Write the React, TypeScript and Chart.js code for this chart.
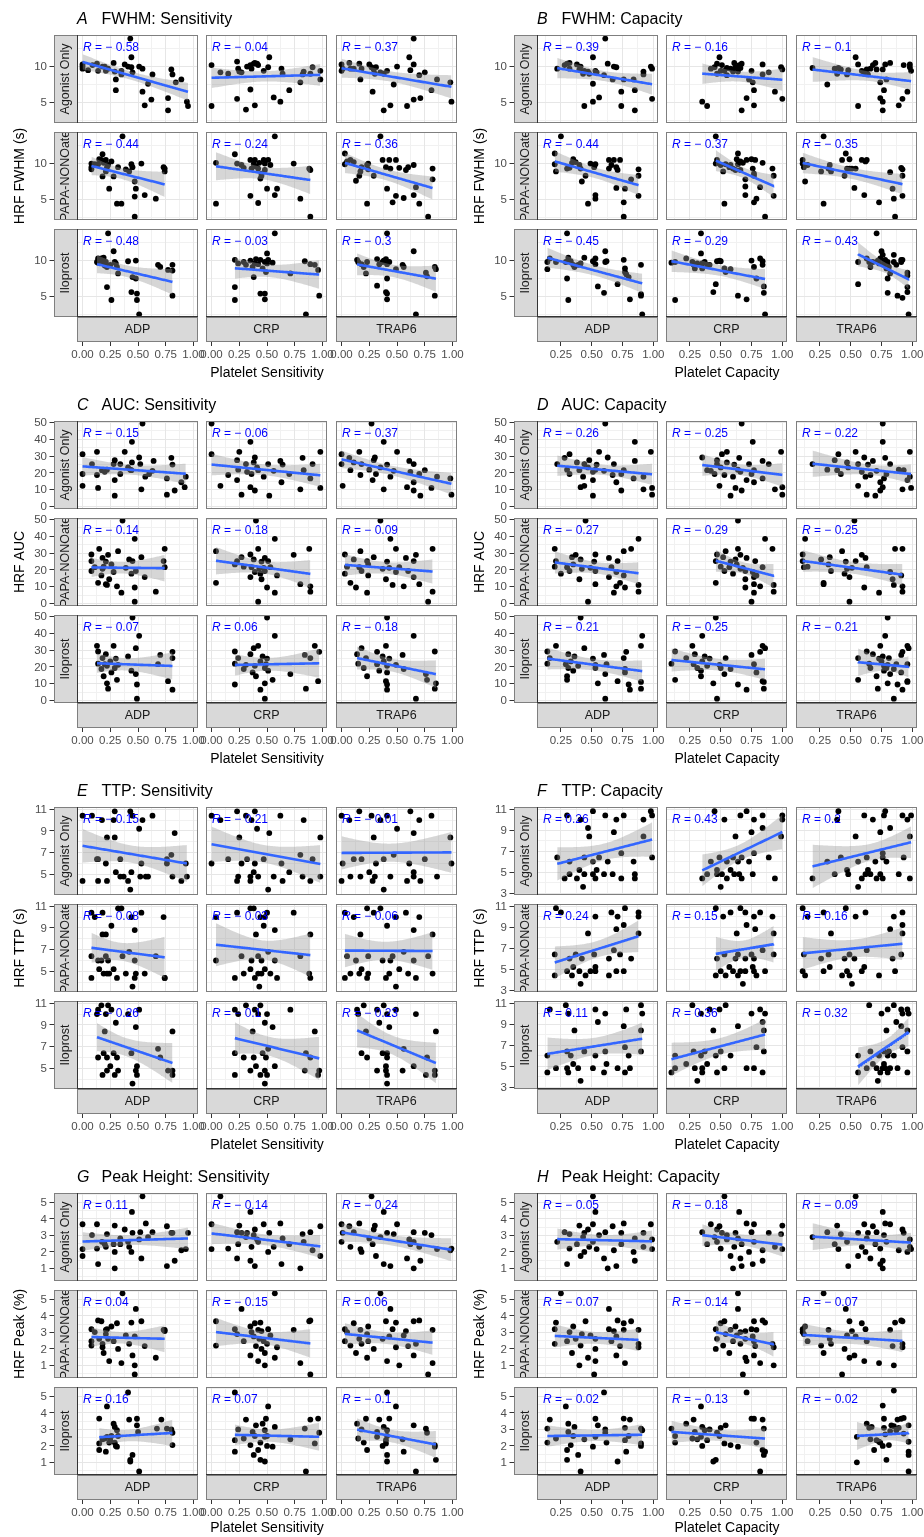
import React, { useEffect, useRef } from "react";
import { Chart, registerables } from "chart.js";

Chart.register(...registerables);

const FONT = '"Liberation Sans", Arial, Helvetica, sans-serif';

// ---------- facet labels ----------
const treatments = ["Agonist Only", "PAPA-NONOate", "Iloprost"];
const agonists = ["ADP", "CRP", "TRAP6"];

// ---------- axis scales ----------
const sensXRange = [-0.05, 1.04];
const sensXTicks = [0, 0.25, 0.5, 0.75, 1];
const capXRange = [0.056, 1.038];
const capXTicks = [0.25, 0.5, 0.75, 1];
const fwhmYRange = [2.13, 14.4];
const fwhmYTicks = [5, 10];
const aucYRange = [-1.4, 50.9];
const aucYTicks = [0, 10, 20, 30, 40, 50];
const ttpSensYRange = [3.1, 11.2];
const ttpCapYRange = [2.82, 11.2];
const ttpYTicks = [3, 5, 7, 9, 11];
const peakYRange = [0.23, 5.58];
const peakYTicks = [1, 2, 3, 4, 5];

// ---------- correlation coefficients (rows: treatment, cols: agonist) ----------
const rA = [-0.58, -0.04, -0.37, -0.44, -0.24, -0.36, -0.48, -0.03, -0.3];
const rB = [-0.39, -0.16, -0.1, -0.44, -0.37, -0.35, -0.45, -0.29, -0.43];
const rC = [-0.15, -0.06, -0.37, -0.14, -0.18, -0.09, -0.07, 0.06, -0.18];
const rD = [-0.26, -0.25, -0.22, -0.27, -0.29, -0.25, -0.21, -0.25, -0.21];
const rE = [-0.15, -0.21, -0.01, -0.08, -0.03, -0.06, -0.26, -0.1, -0.23];
const rF = [0.26, 0.43, 0.2, 0.24, 0.15, 0.16, 0.11, 0.36, 0.32];
const rG = [0.11, -0.14, -0.24, 0.04, -0.15, 0.06, 0.16, 0.07, -0.1];
const rH = [-0.05, -0.18, -0.09, -0.07, -0.14, -0.07, -0.02, -0.13, -0.02];

// ---------- platelet sensitivity per subject (x) ----------
const sens_ago_ADP_x = [0.0, 0.0, 0.0, 0.05, 0.09, 0.13, 0.14, 0.18, 0.2, 0.21, 0.23, 0.28, 0.29, 0.3, 0.3, 0.35, 0.35, 0.38, 0.41, 0.44, 0.43, 0.44, 0.45, 0.51, 0.54, 0.54, 0.59, 0.63, 0.62, 0.56, 0.77, 0.77, 0.8, 0.81, 0.84, 0.89, 0.94, 0.95];
const sens_ago_CRP_x = [0.0, 0.0, 0.08, 0.15, 0.23, 0.24, 0.25, 0.23, 0.31, 0.32, 0.35, 0.36, 0.38, 0.39, 0.41, 0.35, 0.39, 0.42, 0.47, 0.51, 0.52, 0.56, 0.62, 0.63, 0.64, 0.7, 0.8, 0.82, 0.83, 0.89, 0.91, 0.98, 0.98, 0.27];
const sens_ago_TRAP6_x = [0.0, 0.0, 0.01, 0.07, 0.08, 0.11, 0.16, 0.17, 0.18, 0.25, 0.27, 0.28, 0.29, 0.31, 0.3, 0.35, 0.38, 0.38, 0.41, 0.44, 0.47, 0.5, 0.59, 0.61, 0.62, 0.65, 0.65, 0.65, 0.7, 0.71, 0.75, 0.81, 0.86, 0.98, 0.99];
const sens_papa_ADP_x = [0.08, 0.08, 0.08, 0.11, 0.15, 0.17, 0.18, 0.19, 0.21, 0.21, 0.18, 0.23, 0.24, 0.26, 0.28, 0.32, 0.31, 0.35, 0.36, 0.39, 0.42, 0.44, 0.45, 0.47, 0.48, 0.47, 0.47, 0.53, 0.56, 0.66, 0.73, 0.74, 0.74, 0.14, 0.22];
const sens_papa_CRP_x = [0.04, 0.04, 0.21, 0.23, 0.27, 0.29, 0.35, 0.35, 0.36, 0.38, 0.39, 0.4, 0.42, 0.42, 0.43, 0.44, 0.45, 0.45, 0.47, 0.48, 0.48, 0.5, 0.51, 0.53, 0.57, 0.57, 0.59, 0.74, 0.8, 0.88, 0.89, 0.89];
const sens_papa_TRAP6_x = [0.03, 0.03, 0.05, 0.08, 0.11, 0.13, 0.16, 0.17, 0.18, 0.23, 0.23, 0.24, 0.24, 0.29, 0.35, 0.37, 0.4, 0.41, 0.43, 0.46, 0.49, 0.49, 0.52, 0.56, 0.58, 0.6, 0.65, 0.65, 0.67, 0.7, 0.78, 0.82, 0.82, 0.44];
const sens_ilo_ADP_x = [0.14, 0.14, 0.17, 0.18, 0.2, 0.19, 0.21, 0.22, 0.23, 0.22, 0.25, 0.26, 0.28, 0.29, 0.3, 0.31, 0.32, 0.41, 0.45, 0.44, 0.48, 0.48, 0.49, 0.49, 0.51, 0.68, 0.7, 0.77, 0.81, 0.81, 0.81, 0.13];
const sens_ilo_CRP_x = [0.21, 0.21, 0.21, 0.24, 0.29, 0.31, 0.35, 0.37, 0.38, 0.39, 0.4, 0.44, 0.44, 0.46, 0.48, 0.48, 0.48, 0.49, 0.5, 0.5, 0.51, 0.55, 0.57, 0.71, 0.84, 0.89, 0.93, 0.96, 0.97, 0.85, 0.42];
const sens_ilo_TRAP6_x = [0.14, 0.15, 0.18, 0.2, 0.22, 0.23, 0.32, 0.32, 0.34, 0.37, 0.38, 0.4, 0.41, 0.41, 0.41, 0.43, 0.4, 0.41, 0.41, 0.49, 0.55, 0.56, 0.65, 0.67, 0.76, 0.77, 0.84, 0.85, 0.84];

// ---------- platelet capacity per subject (x) ----------
const cap_ago_ADP_x = [0.22, 0.28, 0.3, 0.32, 0.32, 0.38, 0.4, 0.41, 0.43, 0.44, 0.44, 0.47, 0.48, 0.51, 0.51, 0.51, 0.53, 0.54, 0.56, 0.6, 0.61, 0.63, 0.67, 0.68, 0.7, 0.74, 0.74, 0.76, 0.84, 0.85, 0.85, 0.92, 0.92, 0.98, 0.99, 0.99];
const cap_ago_CRP_x = [0.35, 0.39, 0.42, 0.45, 0.47, 0.47, 0.49, 0.5, 0.51, 0.53, 0.55, 0.55, 0.58, 0.6, 0.61, 0.62, 0.64, 0.65, 0.66, 0.67, 0.67, 0.71, 0.73, 0.75, 0.76, 0.77, 0.77, 0.84, 0.84, 0.89, 0.94, 0.99, 1.0, 1.0];
const cap_ago_TRAP6_x = [0.19, 0.31, 0.37, 0.39, 0.4, 0.42, 0.47, 0.48, 0.54, 0.56, 0.56, 0.59, 0.61, 0.62, 0.63, 0.64, 0.66, 0.68, 0.7, 0.71, 0.74, 0.76, 0.74, 0.77, 0.76, 0.76, 0.78, 0.79, 0.82, 0.89, 0.92, 0.93, 0.96, 0.98, 0.98, 0.99];
const cap_papa_ADP_x = [0.2, 0.2, 0.21, 0.25, 0.3, 0.32, 0.34, 0.35, 0.37, 0.4, 0.41, 0.42, 0.45, 0.47, 0.49, 0.52, 0.53, 0.53, 0.53, 0.64, 0.64, 0.66, 0.68, 0.7, 0.7, 0.71, 0.73, 0.76, 0.76, 0.77, 0.82, 0.88, 0.88, 0.88];
const cap_papa_CRP_x = [0.46, 0.46, 0.47, 0.5, 0.52, 0.53, 0.54, 0.57, 0.58, 0.6, 0.62, 0.63, 0.64, 0.64, 0.66, 0.66, 0.68, 0.7, 0.7, 0.7, 0.71, 0.75, 0.76, 0.77, 0.77, 0.78, 0.77, 0.79, 0.82, 0.84, 0.86, 0.92, 0.93, 0.93];
const cap_papa_TRAP6_x = [0.11, 0.11, 0.12, 0.13, 0.15, 0.26, 0.28, 0.28, 0.32, 0.33, 0.34, 0.43, 0.45, 0.46, 0.47, 0.49, 0.49, 0.51, 0.53, 0.54, 0.59, 0.61, 0.62, 0.63, 0.73, 0.82, 0.84, 0.85, 0.86, 0.91, 0.92, 0.92, 0.92];
const cap_ilo_ADP_x = [0.14, 0.14, 0.16, 0.21, 0.29, 0.3, 0.3, 0.31, 0.31, 0.33, 0.35, 0.36, 0.39, 0.41, 0.44, 0.53, 0.51, 0.53, 0.55, 0.6, 0.61, 0.61, 0.62, 0.71, 0.76, 0.77, 0.77, 0.78, 0.8, 0.81, 0.9, 0.9, 0.9, 0.91];
const cap_ilo_CRP_x = [0.1, 0.13, 0.13, 0.22, 0.27, 0.28, 0.29, 0.31, 0.34, 0.34, 0.35, 0.35, 0.37, 0.39, 0.41, 0.46, 0.44, 0.47, 0.49, 0.5, 0.53, 0.54, 0.58, 0.64, 0.71, 0.75, 0.77, 0.79, 0.82, 0.84, 0.84, 0.85, 0.85, 0.86];
const cap_ilo_TRAP6_x = [0.56, 0.56, 0.63, 0.65, 0.66, 0.68, 0.71, 0.72, 0.73, 0.74, 0.75, 0.76, 0.77, 0.77, 0.78, 0.79, 0.8, 0.8, 0.8, 0.81, 0.82, 0.85, 0.85, 0.87, 0.88, 0.91, 0.91, 0.92, 0.92, 0.96, 0.96, 0.96, 0.96, 0.97];

// ---------- HRF FWHM (s) ----------
const A_ago_ADP_y = [10.3, 9.7, 10.0, 9.5, 10.2, 10.4, 9.4, 10.0, 10.0, 9.4, 9.7, 10.5, 9.3, 8.2, 6.7, 9.4, 8.9, 10.3, 10.0, 11.3, 13.9, 9.9, 9.2, 10.0, 9.7, 6.5, 7.6, 8.9, 5.4, 4.6, 5.6, 3.9, 9.6, 8.9, 7.8, 8.2, 5.1, 4.5];
const A_ago_CRP_y = [10.2, 4.5, 9.2, 9.0, 10.7, 9.7, 9.3, 5.5, 4.0, 10.0, 10.2, 9.7, 10.4, 10.5, 10.4, 6.8, 4.6, 10.2, 9.4, 9.9, 11.3, 5.7, 5.1, 9.7, 9.0, 6.7, 7.8, 8.9, 9.3, 9.0, 9.9, 9.4, 8.2, 9.2];
const A_ago_TRAP6_y = [10.3, 9.4, 9.7, 10.5, 9.7, 9.7, 10.4, 8.2, 9.7, 10.3, 9.9, 6.5, 9.6, 9.9, 9.0, 9.2, 9.0, 3.9, 9.4, 4.6, 7.5, 10.0, 4.5, 11.3, 9.5, 10.3, 13.9, 5.4, 8.8, 5.6, 9.2, 6.7, 8.2, 7.8, 5.1];
const A_papa_ADP_y = [10.0, 9.5, 9.2, 9.9, 10.6, 10.5, 11.3, 10.1, 10.5, 8.9, 8.2, 9.8, 6.5, 10.3, 8.2, 9.5, 4.4, 4.4, 13.8, 9.2, 8.9, 9.9, 9.5, 7.5, 6.5, 5.4, 2.6, 10.0, 5.6, 5.1, 9.5, 8.9, 9.3, 9.9, 9.5];
const A_papa_CRP_y = [10.1, 4.4, 11.3, 10.0, 9.8, 9.4, 10.5, 5.5, 9.3, 9.9, 10.5, 9.6, 9.3, 4.5, 10.1, 7.9, 8.3, 8.6, 10.5, 9.1, 10.0, 6.5, 10.5, 9.8, 13.8, 5.6, 6.5, 10.0, 5.1, 9.3, 2.6, 9.1];
const A_papa_TRAP6_y = [11.4, 9.9, 10.3, 10.5, 10.2, 7.6, 8.3, 8.9, 9.5, 9.8, 4.4, 9.2, 10.0, 8.3, 13.8, 10.5, 9.5, 6.5, 10.5, 4.6, 10.5, 5.5, 9.4, 5.2, 9.1, 9.5, 9.8, 5.6, 6.7, 4.4, 2.6, 9.3, 7.8, 9.3];
const A_ilo_ADP_y = [10.3, 9.7, 10.3, 9.9, 9.3, 10.4, 9.8, 9.1, 13.8, 6.3, 9.4, 4.5, 11.3, 9.8, 9.6, 9.1, 8.2, 9.9, 7.7, 5.6, 10.0, 7.5, 5.4, 4.5, 2.5, 9.4, 9.1, 8.7, 9.4, 5.1, 8.6, 9.8];
const A_ilo_CRP_y = [10.1, 6.3, 4.5, 9.6, 9.8, 9.4, 10.0, 9.1, 7.7, 9.6, 10.2, 10.1, 5.4, 8.9, 9.8, 5.4, 4.6, 8.4, 9.6, 11.0, 10.1, 9.7, 13.8, 8.2, 9.9, 9.5, 9.4, 8.7, 5.1, 2.5, 9.5];
const A_ilo_TRAP6_y = [10.1, 9.8, 9.5, 9.1, 8.2, 9.8, 6.5, 10.2, 9.5, 9.8, 10.0, 10.2, 13.8, 9.5, 7.5, 9.8, 5.6, 5.4, 4.6, 8.8, 9.4, 9.1, 11.3, 2.5, 8.3, 7.8, 9.1, 8.8, 5.1];

const B_ago_ADP_y = [9.7, 10.2, 10.4, 9.7, 10.5, 10.3, 9.6, 10.0, 9.0, 9.4, 4.5, 9.3, 9.0, 11.3, 7.6, 5.1, 9.4, 9.2, 5.7, 8.8, 13.9, 10.4, 8.2, 10.0, 9.9, 6.5, 4.5, 8.2, 8.2, 3.9, 6.7, 9.3, 8.9, 10.0, 9.7, 5.5];
const B_ago_CRP_y = [5.1, 4.5, 9.7, 9.9, 9.0, 10.4, 11.3, 9.4, 10.2, 9.4, 9.8, 8.8, 9.7, 9.3, 10.5, 9.9, 9.3, 10.2, 9.8, 10.4, 3.9, 5.6, 8.2, 9.4, 7.8, 6.7, 4.6, 10.3, 8.9, 9.2, 6.5, 9.9, 9.6, 5.5];
const B_ago_TRAP6_y = [9.8, 7.5, 9.7, 9.0, 9.8, 9.6, 8.9, 9.5, 11.3, 4.5, 10.3, 9.4, 9.0, 9.3, 9.6, 8.9, 9.7, 10.2, 10.5, 9.6, 7.8, 9.6, 5.6, 6.7, 5.1, 3.9, 10.3, 8.2, 10.5, 4.6, 5.5, 10.2, 6.5, 10.3, 9.9, 9.4];
const B_papa_ADP_y = [11.4, 9.9, 8.9, 13.8, 9.3, 9.4, 10.1, 10.6, 10.2, 9.8, 9.3, 7.5, 8.3, 4.4, 10.0, 9.5, 9.9, 5.6, 5.1, 9.3, 10.5, 9.8, 10.5, 6.6, 9.5, 9.1, 10.5, 4.6, 2.6, 6.5, 7.8, 9.2, 8.3, 5.5];
const B_papa_CRP_y = [13.8, 10.0, 10.5, 9.8, 8.9, 4.4, 9.9, 9.5, 9.8, 9.3, 9.1, 10.6, 11.4, 9.9, 10.3, 9.1, 10.1, 7.8, 6.8, 5.6, 10.5, 10.6, 9.3, 8.6, 4.6, 10.5, 8.3, 5.1, 6.7, 10.1, 2.6, 9.3, 8.3, 5.5];
const B_papa_TRAP6_y = [10.5, 10.0, 9.5, 7.5, 9.8, 8.9, 13.8, 4.4, 9.3, 9.8, 8.9, 10.5, 8.3, 11.4, 9.3, 10.6, 9.3, 9.3, 6.6, 9.3, 10.5, 5.6, 10.3, 10.5, 4.6, 8.8, 6.5, 5.1, 2.6, 9.4, 9.2, 8.3, 5.5];
const B_ilo_ADP_y = [9.8, 8.8, 10.3, 9.8, 9.8, 13.8, 7.5, 4.5, 10.4, 9.9, 9.4, 9.1, 9.4, 9.6, 10.4, 9.5, 9.9, 10.3, 6.4, 5.5, 11.3, 9.8, 9.9, 6.7, 10.1, 8.9, 8.4, 8.1, 7.7, 4.6, 9.4, 5.3, 5.1, 2.5];
const B_ilo_CRP_y = [9.7, 9.8, 4.5, 10.3, 9.8, 9.4, 8.9, 9.6, 13.8, 11.0, 9.6, 8.9, 9.8, 9.4, 9.4, 6.7, 5.6, 9.9, 10.0, 9.9, 8.9, 8.4, 8.8, 5.1, 4.6, 10.0, 9.1, 7.5, 10.3, 9.9, 9.4, 6.4, 5.5, 2.5];
const B_ilo_TRAP6_y = [9.8, 6.7, 10.3, 9.8, 9.1, 9.8, 13.8, 10.0, 9.6, 10.3, 11.3, 10.8, 9.8, 9.4, 10.1, 8.9, 9.8, 7.5, 5.5, 9.1, 8.2, 9.8, 10.8, 9.4, 5.1, 10.1, 9.8, 10.1, 4.8, 8.3, 7.9, 6.3, 5.6, 2.5];

// ---------- HRF AUC ----------
const C_ago_ADP_x = [0.0, 0.0, 0.0, 0.085, 0.13, 0.13, 0.14, 0.175, 0.2, 0.22, 0.28, 0.29, 0.29, 0.29, 0.34, 0.34, 0.38, 0.41, 0.43, 0.44, 0.445, 0.445, 0.54, 0.53, 0.51, 0.52, 0.565, 0.6, 0.63, 0.64, 0.76, 0.76, 0.8, 0.81, 0.83, 0.89, 0.92, 0.93];
const C_ago_ADP_y = [31.2, 19.4, 12.4, 25.3, 32.6, 18.8, 11.1, 21.7, 20.7, 22.0, 25.3, 27.6, 15.8, 6.5, 19.4, 25.3, 32.6, 23.3, 22.0, 21.7, 38.5, 26.3, 49.4, 10.3, 29.2, 25.3, 17.8, 19.4, 21.3, 27.2, 16.8, 7.1, 29.0, 25.0, 9.6, 14.5, 11.6, 17.8];
const C_ago_CRP_y = [49.4, 31.2, 12.4, 18.8, 27.6, 22.0, 32.6, 15.8, 25.3, 20.7, 38.5, 19.4, 26.3, 9.6, 23.3, 11.6, 29.2, 21.7, 17.8, 25.3, 6.5, 21.3, 27.2, 14.5, 25.0, 19.4, 10.3, 29.0, 21.7, 16.8, 25.3, 11.1, 32.6, 7.1];
const C_ago_TRAP6_y = [31.2, 25.3, 12.4, 29.0, 21.7, 26.3, 32.6, 18.8, 25.3, 22.0, 49.4, 15.8, 27.6, 19.4, 29.2, 23.3, 38.5, 10.3, 25.0, 17.8, 21.3, 32.6, 11.6, 27.2, 20.7, 14.5, 25.3, 9.6, 19.4, 6.5, 21.7, 11.1, 17.8, 16.8, 7.1];
const C_papa_ADP_y = [25.3, 19.4, 29.2, 21.7, 32.6, 16.8, 27.2, 22.0, 11.6, 25.0, 20.7, 29.0, 14.5, 23.3, 18.8, 31.2, 10.3, 6.5, 49.4, 21.3, 26.3, 17.8, 25.3, 38.5, 19.4, 9.6, 1.2, 27.6, 15.8, 7.1, 25.3, 21.7, 32.6, 12.4, 11.1];
const C_papa_CRP_y = [31.2, 12.4, 23.3, 25.3, 27.6, 22.0, 29.2, 15.8, 21.7, 26.3, 18.8, 49.4, 32.6, 1.2, 20.7, 17.8, 25.0, 14.5, 21.3, 19.4, 27.2, 9.6, 25.3, 21.7, 38.5, 6.5, 16.8, 29.0, 11.6, 32.6, 10.3, 7.1];
const C_papa_TRAP6_y = [29.2, 17.8, 22.0, 12.4, 26.3, 9.6, 21.7, 31.2, 19.4, 25.3, 6.5, 23.3, 16.8, 27.6, 49.4, 20.7, 14.5, 25.0, 21.3, 11.1, 32.6, 18.8, 21.7, 10.3, 27.2, 19.4, 25.3, 15.8, 29.0, 11.6, 1.2, 32.6, 7.1, 38.5];
const C_ilo_ADP_y = [22.0, 29.2, 18.8, 25.3, 21.7, 14.5, 27.6, 20.7, 7.1, 10.3, 23.3, 16.8, 32.6, 19.4, 25.0, 12.4, 21.3, 26.3, 49.4, 17.8, 31.2, 15.8, 9.6, 1.2, 38.5, 21.7, 27.2, 11.6, 25.3, 6.5, 29.0, 32.6];
const C_ilo_CRP_y = [22.0, 29.2, 9.6, 25.3, 18.8, 21.3, 27.6, 16.8, 31.2, 20.7, 14.5, 23.3, 6.5, 26.3, 19.4, 10.3, 1.2, 21.7, 25.0, 49.4, 17.8, 12.4, 38.5, 15.8, 27.2, 25.3, 32.6, 11.6, 29.0, 7.1, 32.6];
const C_ilo_TRAP6_y = [27.6, 22.0, 31.2, 19.4, 25.3, 14.5, 29.0, 21.7, 17.8, 26.3, 23.3, 11.6, 49.4, 20.7, 9.6, 25.0, 32.6, 6.5, 16.8, 21.3, 27.2, 18.8, 38.5, 1.2, 15.8, 12.4, 29.2, 10.3, 7.1];

const D_ago_ADP_y = [25.3, 29.0, 22.0, 31.2, 19.4, 26.3, 21.7, 11.6, 17.8, 25.3, 12.4, 23.3, 27.6, 20.7, 6.5, 15.8, 22.0, 25.0, 32.6, 21.3, 49.4, 29.2, 18.8, 25.3, 14.5, 9.6, 19.4, 21.7, 16.8, 38.5, 27.2, 17.8, 10.3, 32.6, 11.1, 7.1];
const D_ago_CRP_y = [29.2, 21.7, 21.3, 19.4, 25.3, 27.6, 12.4, 23.3, 31.2, 18.8, 26.3, 32.6, 6.5, 17.8, 25.0, 11.1, 22.0, 29.0, 20.7, 49.4, 9.6, 15.8, 25.3, 19.4, 38.5, 21.7, 14.5, 27.2, 16.8, 25.3, 10.3, 32.6, 11.6, 7.1];
const D_ago_TRAP6_y = [25.3, 22.0, 27.6, 21.7, 31.2, 19.4, 26.3, 23.3, 32.6, 12.4, 25.3, 20.7, 29.2, 17.8, 7.1, 25.0, 18.8, 27.2, 6.5, 21.3, 14.5, 49.4, 9.6, 16.8, 11.6, 38.5, 29.0, 19.4, 25.3, 22.0, 10.3, 21.7, 15.8, 32.6, 17.8, 11.1];
const D_papa_ADP_y = [32.6, 22.0, 25.3, 17.8, 21.7, 19.4, 27.6, 23.3, 29.0, 14.5, 26.3, 20.7, 49.4, 1.2, 21.3, 25.0, 11.6, 19.4, 29.2, 15.8, 27.2, 21.7, 6.5, 10.3, 18.8, 25.3, 12.4, 31.2, 16.8, 9.6, 32.6, 7.1, 11.1, 38.5];
const D_papa_CRP_y = [12.4, 25.3, 29.2, 22.0, 27.6, 19.4, 31.2, 21.7, 25.0, 17.8, 26.3, 23.3, 32.6, 49.4, 20.7, 29.0, 21.3, 14.5, 19.4, 9.6, 27.2, 1.2, 18.8, 15.8, 6.5, 25.3, 11.6, 16.8, 10.3, 21.7, 38.5, 32.6, 11.1, 7.1];
const D_papa_TRAP6_y = [25.3, 29.2, 21.7, 38.5, 22.0, 26.3, 11.6, 12.4, 23.3, 27.6, 19.4, 31.2, 17.8, 25.0, 20.7, 1.2, 15.8, 21.3, 49.4, 25.3, 29.0, 9.6, 27.2, 21.7, 6.5, 18.8, 14.5, 11.1, 32.6, 16.8, 32.6, 10.3, 7.1];
const D_ilo_ADP_y = [29.2, 22.0, 25.3, 32.6, 21.7, 12.4, 14.5, 19.4, 27.6, 23.3, 17.8, 26.3, 20.7, 49.4, 31.2, 21.3, 25.0, 19.4, 10.3, 27.2, 1.2, 15.8, 21.7, 11.6, 25.3, 18.8, 16.8, 29.0, 9.6, 6.5, 32.6, 11.1, 7.1, 38.5];
const D_ilo_CRP_y = [22.0, 29.2, 12.4, 25.3, 32.6, 21.7, 27.6, 19.4, 14.5, 17.8, 23.3, 38.5, 26.3, 20.7, 25.0, 49.4, 10.3, 1.2, 21.3, 19.4, 15.8, 25.3, 18.8, 9.6, 6.5, 27.2, 21.7, 16.8, 29.0, 11.6, 32.6, 11.1, 7.1, 31.2];
const D_ilo_TRAP6_y = [25.3, 12.4, 29.2, 22.0, 19.4, 27.6, 14.5, 7.1, 25.0, 32.6, 23.3, 26.3, 20.7, 17.8, 38.5, 19.4, 21.3, 49.4, 10.3, 25.3, 15.8, 18.8, 1.2, 21.7, 9.6, 27.2, 16.8, 29.0, 6.5, 11.6, 32.6, 11.1, 21.7, 31.2];

// ---------- HRF TTP (s) ----------
const E_ago_ADP_x = [0.0, 0.0, 0.085, 0.13, 0.14, 0.14, 0.175, 0.21, 0.22, 0.22, 0.28, 0.29, 0.29, 0.3, 0.34, 0.34, 0.37, 0.41, 0.43, 0.43, 0.44, 0.45, 0.51, 0.52, 0.53, 0.54, 0.57, 0.59, 0.63, 0.76, 0.76, 0.8, 0.81, 0.83, 0.89, 0.93, 0.94];
const E_ago_ADP_y = [10.4, 4.4, 10.4, 6.4, 6.4, 4.4, 10.0, 6.0, 8.4, 4.4, 10.0, 10.8, 8.4, 5.2, 6.4, 4.8, 4.8, 4.4, 10.8, 3.6, 5.2, 10.4, 9.2, 4.8, 6.0, 10.0, 4.8, 4.8, 10.4, 6.0, 6.4, 6.8, 4.8, 8.8, 4.4, 6.0, 4.8];
const E_ago_CRP_y = [10.4, 6.0, 10.0, 6.4, 10.8, 4.8, 8.4, 4.4, 10.4, 6.4, 4.8, 10.0, 5.2, 6.0, 9.2, 4.4, 10.8, 4.8, 6.4, 3.6, 8.8, 4.8, 10.4, 6.0, 4.4, 5.2, 6.8, 4.8, 10.0, 4.4, 6.4, 8.4, 4.8, 6.0];
const E_ago_TRAP6_y = [10.4, 4.4, 6.0, 10.0, 4.8, 6.4, 10.8, 4.8, 6.4, 5.2, 10.4, 4.4, 8.4, 6.0, 4.8, 10.0, 3.6, 6.4, 10.4, 4.8, 6.8, 9.2, 4.4, 6.0, 10.8, 5.2, 4.8, 8.8, 10.0, 4.4, 6.4, 10.4, 4.8, 8.4, 6.0];
const E_papa_ADP_y = [10.4, 6.4, 4.4, 10.0, 5.2, 6.0, 8.4, 4.8, 6.4, 8.4, 10.4, 6.0, 4.8, 9.2, 5.2, 10.8, 4.4, 10.8, 6.4, 4.8, 6.8, 10.0, 3.6, 6.0, 4.8, 8.8, 4.4, 10.4, 4.8, 6.4, 10.0, 4.4, 4.4, 6.0, 4.8];
const E_papa_CRP_y = [10.0, 6.0, 4.4, 10.4, 6.4, 4.8, 10.8, 5.2, 6.0, 10.8, 4.4, 8.4, 4.8, 6.4, 3.6, 10.0, 4.8, 6.0, 9.2, 10.0, 5.2, 10.4, 6.8, 4.8, 8.8, 6.0, 4.4, 10.4, 6.4, 4.8, 4.4, 8.4];
const E_papa_TRAP6_y = [4.4, 10.4, 6.4, 4.8, 10.0, 6.0, 4.8, 8.4, 5.2, 10.8, 4.4, 6.4, 4.8, 10.4, 10.8, 6.0, 4.4, 9.2, 4.8, 6.4, 10.0, 3.6, 5.2, 6.8, 10.4, 4.8, 6.0, 8.8, 4.4, 10.0, 6.4, 4.8, 8.4, 6.0];
const E_ilo_ADP_y = [10.4, 6.0, 10.8, 4.4, 8.4, 6.4, 10.0, 4.8, 10.8, 6.0, 5.2, 10.4, 6.4, 4.4, 9.2, 6.0, 4.8, 10.0, 3.6, 6.4, 4.8, 8.8, 4.4, 5.2, 10.4, 6.8, 6.0, 4.8, 4.4, 8.4, 4.8, 10.0];
const E_ilo_CRP_y = [10.4, 6.4, 4.4, 10.0, 6.0, 10.8, 4.8, 8.4, 6.0, 10.4, 5.2, 4.4, 10.8, 6.4, 3.6, 9.2, 4.8, 6.0, 10.0, 4.4, 6.8, 8.8, 5.2, 10.4, 4.8, 6.0, 8.4, 4.4, 4.8, 6.4, 10.0];
const E_ilo_TRAP6_y = [10.4, 10.0, 6.4, 10.8, 8.4, 6.0, 10.4, 4.8, 9.2, 6.4, 10.8, 5.2, 10.0, 4.4, 6.0, 8.8, 4.8, 3.6, 6.4, 10.4, 4.8, 6.8, 5.2, 10.0, 4.4, 6.0, 4.8, 8.4, 4.4];

const F_ago_ADP_y = [6.4, 4.4, 10.4, 4.8, 6.0, 4.4, 5.2, 10.0, 3.6, 6.4, 4.8, 9.2, 8.4, 4.8, 6.0, 10.8, 4.4, 5.2, 6.4, 4.8, 10.4, 6.0, 4.8, 8.8, 10.0, 4.4, 6.8, 10.4, 6.0, 4.4, 4.8, 10.0, 8.4, 10.8, 6.4, 10.4];
const F_ago_CRP_y = [4.4, 4.8, 6.0, 10.8, 5.2, 4.8, 6.4, 3.6, 4.8, 10.0, 6.0, 4.4, 5.2, 6.4, 4.8, 8.4, 6.0, 4.8, 10.4, 6.4, 4.4, 10.8, 6.0, 8.8, 4.8, 10.0, 6.8, 10.4, 9.2, 6.4, 4.4, 8.4, 10.4, 10.0];
const F_ago_TRAP6_y = [4.4, 6.0, 4.8, 10.0, 10.8, 6.4, 5.2, 4.8, 8.4, 3.6, 6.0, 4.4, 10.4, 4.8, 6.4, 5.2, 4.8, 10.0, 6.0, 4.4, 8.8, 6.4, 4.8, 10.4, 4.4, 6.8, 10.8, 6.0, 9.2, 4.8, 10.4, 6.4, 10.0, 8.4, 4.4, 10.4];
const F_papa_ADP_y = [6.4, 4.4, 10.8, 10.4, 4.8, 6.0, 4.4, 5.2, 6.4, 4.8, 3.6, 6.0, 4.4, 8.4, 4.8, 6.4, 5.2, 10.0, 4.8, 6.0, 4.4, 10.4, 6.8, 4.8, 8.8, 10.0, 6.4, 9.2, 4.8, 10.8, 6.0, 8.4, 10.4, 10.0];
const F_papa_CRP_y = [4.4, 10.8, 6.0, 4.8, 10.0, 6.4, 4.4, 5.2, 10.4, 4.8, 6.0, 8.4, 4.4, 6.4, 4.8, 10.8, 3.6, 6.0, 10.4, 4.8, 9.2, 6.4, 5.2, 10.0, 4.8, 8.8, 6.0, 4.4, 10.4, 6.8, 4.8, 10.0, 6.4, 8.4];
const F_papa_TRAP6_y = [10.8, 4.8, 6.4, 4.4, 10.0, 6.0, 10.4, 4.8, 6.4, 5.2, 8.4, 4.4, 6.0, 10.8, 4.8, 6.4, 4.4, 3.6, 6.0, 10.0, 4.8, 5.2, 10.4, 6.8, 4.4, 8.8, 6.0, 10.0, 4.8, 6.4, 9.2, 8.4, 10.4];
const F_ilo_ADP_y = [6.0, 4.4, 10.4, 4.8, 10.8, 6.4, 4.8, 10.0, 4.4, 6.0, 5.2, 8.4, 4.8, 3.6, 6.4, 10.4, 4.8, 6.0, 9.2, 4.4, 6.4, 10.0, 5.2, 4.8, 8.8, 6.8, 4.4, 10.4, 6.0, 4.8, 10.8, 8.4, 6.4, 10.0];
const F_ilo_CRP_y = [4.4, 6.0, 4.8, 5.2, 10.8, 6.4, 4.8, 3.6, 6.0, 10.0, 4.4, 4.8, 6.4, 5.2, 10.4, 6.0, 8.4, 4.4, 10.4, 6.4, 4.8, 10.8, 6.0, 8.8, 4.8, 10.0, 4.8, 6.8, 10.4, 9.2, 4.4, 6.4, 8.4, 10.0];
const F_ilo_TRAP6_y = [4.4, 6.0, 4.8, 10.8, 6.4, 5.2, 4.8, 3.6, 6.0, 4.4, 10.0, 4.8, 6.4, 5.2, 4.8, 8.4, 6.0, 4.4, 10.4, 6.4, 4.8, 10.8, 6.0, 9.2, 4.8, 10.4, 8.8, 6.8, 10.0, 4.4, 6.4, 10.4, 8.4, 10.0];

// ---------- HRF peak (%) ----------
const G_ago_ADP_x = [0.0, 0.0, 0.0, 0.085, 0.13, 0.13, 0.14, 0.175, 0.2, 0.21, 0.22, 0.28, 0.29, 0.29, 0.29, 0.34, 0.34, 0.38, 0.41, 0.42, 0.44, 0.445, 0.45, 0.54, 0.53, 0.51, 0.52, 0.57, 0.59, 0.63, 0.76, 0.76, 0.8, 0.81, 0.83, 0.89, 0.93, 0.95];
const G_ago_ADP_y = [3.68, 2.17, 1.75, 3.02, 3.68, 2.2, 1.26, 2.61, 2.47, 2.31, 3.08, 2.47, 3.6, 2.0, 1.0, 2.82, 2.47, 3.36, 2.61, 2.31, 2.0, 4.43, 3.16, 5.38, 1.6, 2.76, 3.2, 3.73, 2.9, 3.2, 3.56, 1.14, 3.16, 3.16, 1.46, 2.1, 2.17, 3.16];
const G_ago_CRP_y = [3.68, 2.17, 5.38, 2.2, 3.2, 2.47, 3.6, 1.6, 2.9, 3.16, 4.43, 2.31, 3.02, 1.14, 2.76, 1.46, 3.36, 2.61, 3.68, 2.0, 3.16, 2.31, 3.73, 1.26, 2.82, 2.47, 1.0, 3.08, 2.61, 3.2, 2.1, 3.56, 1.75, 3.16];
const G_ago_TRAP6_y = [3.68, 2.61, 3.16, 3.56, 2.31, 3.2, 3.73, 2.17, 2.0, 2.82, 5.38, 2.47, 3.36, 1.75, 3.6, 2.9, 4.43, 1.26, 3.16, 1.14, 3.08, 3.68, 1.6, 2.76, 2.47, 3.2, 1.0, 2.61, 2.31, 1.46, 3.16, 3.02, 2.17, 2.1, 2.2];
const G_papa_ADP_y = [3.2, 2.47, 2.2, 3.02, 2.61, 3.68, 2.31, 1.75, 2.9, 3.16, 2.1, 2.61, 1.26, 3.36, 2.47, 2.0, 3.56, 1.14, 5.38, 2.82, 2.31, 3.6, 1.6, 2.76, 4.43, 1.0, 0.45, 3.68, 2.17, 1.46, 3.16, 3.08, 3.16, 3.73, 3.2];
const G_papa_CRP_y = [3.68, 2.2, 3.2, 2.9, 4.43, 2.47, 3.36, 1.6, 3.02, 2.76, 3.56, 2.17, 3.16, 1.26, 2.61, 3.6, 2.0, 3.08, 2.47, 1.75, 1.0, 2.31, 3.2, 2.82, 5.38, 1.46, 2.1, 3.16, 1.14, 3.68, 0.45, 3.73];
const G_papa_TRAP6_y = [3.2, 2.47, 3.02, 2.2, 3.56, 1.75, 2.61, 3.16, 2.31, 2.9, 1.46, 3.36, 2.47, 2.0, 5.38, 2.61, 3.68, 1.26, 2.76, 3.2, 2.1, 3.6, 1.0, 2.82, 3.08, 2.17, 3.68, 1.6, 2.31, 3.73, 0.45, 3.16, 1.14, 4.43];
const G_ilo_ADP_x = [0.15, 0.15, 0.15, 0.22, 0.21, 0.2, 0.18, 0.22, 0.24, 0.25, 0.26, 0.28, 0.29, 0.29, 0.3, 0.31, 0.31, 0.32, 0.41, 0.42, 0.43, 0.43, 0.45, 0.49, 0.49, 0.5, 0.51, 0.67, 0.71, 0.76, 0.8, 0.81, 0.81];
const G_ilo_ADP_y = [3.66, 2.15, 1.75, 4.4, 1.65, 2.45, 2.4, 2.55, 2.2, 2.35, 2.6, 3.35, 2.2, 3.15, 2.0, 2.95, 1.95, 2.6, 5.25, 3.6, 1.15, 1.05, 1.45, 3.65, 3.25, 2.85, 0.45, 3.05, 3.6, 3.05, 3.0, 2.8, 2.05];
const G_ilo_CRP_y = [5.25, 2.35, 1.65, 3.0, 2.45, 3.6, 2.05, 2.85, 1.45, 2.6, 3.25, 1.15, 2.2, 3.35, 2.55, 1.05, 2.95, 3.65, 2.0, 2.6, 4.4, 1.95, 3.15, 2.4, 3.05, 3.6, 2.15, 3.66, 2.8, 0.45, 1.75];
const G_ilo_TRAP6_y = [3.35, 2.45, 3.0, 2.2, 3.65, 1.75, 2.85, 2.55, 3.6, 2.0, 3.15, 2.35, 5.25, 2.6, 1.45, 3.66, 2.15, 1.05, 2.95, 4.4, 2.4, 1.65, 3.25, 0.45, 3.05, 2.8, 1.95, 1.15, 2.05];

const H_ago_ADP_y = [2.61, 3.2, 1.26, 2.2, 3.08, 2.47, 3.6, 1.75, 2.9, 3.16, 2.0, 3.36, 2.31, 5.38, 3.68, 2.61, 4.43, 2.17, 3.02, 1.6, 3.2, 1.0, 3.56, 2.1, 1.14, 3.16, 2.47, 3.73, 2.0, 2.82, 1.46, 3.16, 2.31, 3.68, 2.76, 2.17];
const H_ago_CRP_y = [3.2, 2.47, 3.68, 2.9, 3.36, 2.61, 3.56, 2.2, 3.16, 5.38, 2.76, 3.02, 1.75, 1.0, 2.31, 3.16, 2.82, 4.43, 1.6, 1.14, 2.47, 3.73, 2.0, 3.2, 1.26, 2.61, 3.68, 2.1, 1.46, 3.16, 2.31, 3.08, 2.17, 3.6];
const H_ago_TRAP6_y = [2.9, 3.2, 2.47, 3.6, 2.17, 3.08, 2.61, 1.14, 5.38, 1.75, 3.16, 2.31, 3.68, 2.0, 2.82, 3.16, 1.6, 3.56, 2.47, 3.2, 1.26, 4.43, 2.2, 3.02, 1.46, 1.0, 3.73, 2.61, 3.68, 2.1, 3.36, 3.16, 2.0, 2.76, 2.31, 2.17];
const H_papa_ADP_y = [3.2, 2.31, 3.6, 5.38, 2.47, 3.02, 1.75, 3.36, 2.61, 1.0, 2.2, 2.9, 3.68, 1.46, 2.82, 0.45, 2.0, 2.61, 1.26, 3.2, 4.43, 2.47, 3.08, 1.6, 2.76, 3.73, 2.17, 3.56, 3.16, 1.14, 3.68, 2.31, 2.1, 3.16];
const H_papa_CRP_y = [2.0, 3.2, 2.61, 3.56, 2.2, 3.68, 2.9, 1.75, 3.16, 2.47, 3.36, 2.82, 4.43, 5.38, 3.02, 2.31, 0.45, 1.46, 2.61, 3.08, 1.26, 3.2, 2.76, 1.6, 3.68, 2.17, 2.47, 3.16, 1.14, 3.73, 3.6, 2.31, 1.0, 2.1];
const H_papa_TRAP6_y = [3.2, 3.02, 2.9, 3.36, 2.47, 2.2, 5.38, 1.75, 3.16, 2.61, 2.31, 0.45, 2.0, 4.43, 2.82, 3.68, 1.46, 3.08, 1.6, 2.76, 3.56, 1.26, 3.2, 2.47, 1.14, 3.16, 2.17, 1.0, 3.6, 3.73, 2.31, 3.68, 2.1];
const H_ilo_ADP_y = [3.05, 2.2, 3.6, 2.45, 4.4, 1.15, 1.75, 2.85, 3.35, 2.05, 2.6, 3.15, 1.45, 0.45, 2.4, 3.65, 1.95, 2.55, 3.25, 5.25, 2.8, 3.0, 2.2, 1.05, 3.66, 2.35, 3.1, 1.65, 2.6, 3.6, 2.0, 3.05, 2.15, 2.95];
const H_ilo_CRP_y = [3.05, 2.6, 2.2, 3.35, 2.45, 3.6, 2.85, 2.4, 4.4, 2.55, 3.15, 2.0, 2.95, 2.35, 3.0, 1.15, 1.05, 2.8, 2.6, 3.1, 2.15, 3.25, 2.05, 1.95, 5.25, 3.66, 3.65, 2.2, 0.45, 3.6, 1.75, 3.05, 1.45, 1.65];
const H_ilo_TRAP6_x = [0.55, 0.55, 0.63, 0.65, 0.66, 0.67, 0.69, 0.71, 0.73, 0.74, 0.76, 0.76, 0.77, 0.77, 0.78, 0.79, 0.81, 0.82, 0.83, 0.85, 0.85, 0.87, 0.88, 0.89, 0.91, 0.93, 0.93, 0.97, 0.97, 0.97, 0.97, 0.97];
const H_ilo_TRAP6_y = [2.55, 1.0, 3.35, 3.1, 2.4, 3.15, 1.75, 2.35, 2.25, 2.2, 2.0, 4.45, 3.65, 3.1, 2.7, 1.15, 2.05, 2.9, 3.25, 5.36, 3.2, 2.95, 3.6, 3.1, 3.65, 3.7, 2.75, 3.25, 2.25, 1.65, 1.45, 0.45];

type Facet = { x: number[]; y: number[] };
type Panel = {
  tag: string;
  title: string;
  yTitle: string;
  xTitle: string;
  gx: number;
  gy: number;
  xRange: number[];
  xTicks: number[];
  yRange: number[];
  yTicks: number[];
  r: number[];
  facets: Facet[][];
};

const f = (x: number[], y: number[]): Facet => ({ x, y });

const panels: Panel[] = [
  {
    tag: "A", title: "FWHM: Sensitivity", yTitle: "HRF FWHM (s)", xTitle: "Platelet Sensitivity", gx: 0, gy: 0,
    xRange: sensXRange, xTicks: sensXTicks, yRange: fwhmYRange, yTicks: fwhmYTicks, r: rA,
    facets: [
      [f(sens_ago_ADP_x, A_ago_ADP_y), f(sens_ago_CRP_x, A_ago_CRP_y), f(sens_ago_TRAP6_x, A_ago_TRAP6_y)],
      [f(sens_papa_ADP_x, A_papa_ADP_y), f(sens_papa_CRP_x, A_papa_CRP_y), f(sens_papa_TRAP6_x, A_papa_TRAP6_y)],
      [f(sens_ilo_ADP_x, A_ilo_ADP_y), f(sens_ilo_CRP_x, A_ilo_CRP_y), f(sens_ilo_TRAP6_x, A_ilo_TRAP6_y)],
    ],
  },
  {
    tag: "B", title: "FWHM: Capacity", yTitle: "HRF FWHM (s)", xTitle: "Platelet Capacity", gx: 1, gy: 0,
    xRange: capXRange, xTicks: capXTicks, yRange: fwhmYRange, yTicks: fwhmYTicks, r: rB,
    facets: [
      [f(cap_ago_ADP_x, B_ago_ADP_y), f(cap_ago_CRP_x, B_ago_CRP_y), f(cap_ago_TRAP6_x, B_ago_TRAP6_y)],
      [f(cap_papa_ADP_x, B_papa_ADP_y), f(cap_papa_CRP_x, B_papa_CRP_y), f(cap_papa_TRAP6_x, B_papa_TRAP6_y)],
      [f(cap_ilo_ADP_x, B_ilo_ADP_y), f(cap_ilo_CRP_x, B_ilo_CRP_y), f(cap_ilo_TRAP6_x, B_ilo_TRAP6_y)],
    ],
  },
  {
    tag: "C", title: "AUC: Sensitivity", yTitle: "HRF AUC", xTitle: "Platelet Sensitivity", gx: 0, gy: 1,
    xRange: sensXRange, xTicks: sensXTicks, yRange: aucYRange, yTicks: aucYTicks, r: rC,
    facets: [
      [f(C_ago_ADP_x, C_ago_ADP_y), f(sens_ago_CRP_x, C_ago_CRP_y), f(sens_ago_TRAP6_x, C_ago_TRAP6_y)],
      [f(sens_papa_ADP_x, C_papa_ADP_y), f(sens_papa_CRP_x, C_papa_CRP_y), f(sens_papa_TRAP6_x, C_papa_TRAP6_y)],
      [f(sens_ilo_ADP_x, C_ilo_ADP_y), f(sens_ilo_CRP_x, C_ilo_CRP_y), f(sens_ilo_TRAP6_x, C_ilo_TRAP6_y)],
    ],
  },
  {
    tag: "D", title: "AUC: Capacity", yTitle: "HRF AUC", xTitle: "Platelet Capacity", gx: 1, gy: 1,
    xRange: capXRange, xTicks: capXTicks, yRange: aucYRange, yTicks: aucYTicks, r: rD,
    facets: [
      [f(cap_ago_ADP_x, D_ago_ADP_y), f(cap_ago_CRP_x, D_ago_CRP_y), f(cap_ago_TRAP6_x, D_ago_TRAP6_y)],
      [f(cap_papa_ADP_x, D_papa_ADP_y), f(cap_papa_CRP_x, D_papa_CRP_y), f(cap_papa_TRAP6_x, D_papa_TRAP6_y)],
      [f(cap_ilo_ADP_x, D_ilo_ADP_y), f(cap_ilo_CRP_x, D_ilo_CRP_y), f(cap_ilo_TRAP6_x, D_ilo_TRAP6_y)],
    ],
  },
  {
    tag: "E", title: "TTP: Sensitivity", yTitle: "HRF TTP (s)", xTitle: "Platelet Sensitivity", gx: 0, gy: 2,
    xRange: sensXRange, xTicks: sensXTicks, yRange: ttpSensYRange, yTicks: ttpYTicks, r: rE,
    facets: [
      [f(E_ago_ADP_x, E_ago_ADP_y), f(sens_ago_CRP_x, E_ago_CRP_y), f(sens_ago_TRAP6_x, E_ago_TRAP6_y)],
      [f(sens_papa_ADP_x, E_papa_ADP_y), f(sens_papa_CRP_x, E_papa_CRP_y), f(sens_papa_TRAP6_x, E_papa_TRAP6_y)],
      [f(sens_ilo_ADP_x, E_ilo_ADP_y), f(sens_ilo_CRP_x, E_ilo_CRP_y), f(sens_ilo_TRAP6_x, E_ilo_TRAP6_y)],
    ],
  },
  {
    tag: "F", title: "TTP: Capacity", yTitle: "HRF TTP (s)", xTitle: "Platelet Capacity", gx: 1, gy: 2,
    xRange: capXRange, xTicks: capXTicks, yRange: ttpCapYRange, yTicks: ttpYTicks, r: rF,
    facets: [
      [f(cap_ago_ADP_x, F_ago_ADP_y), f(cap_ago_CRP_x, F_ago_CRP_y), f(cap_ago_TRAP6_x, F_ago_TRAP6_y)],
      [f(cap_papa_ADP_x, F_papa_ADP_y), f(cap_papa_CRP_x, F_papa_CRP_y), f(cap_papa_TRAP6_x, F_papa_TRAP6_y)],
      [f(cap_ilo_ADP_x, F_ilo_ADP_y), f(cap_ilo_CRP_x, F_ilo_CRP_y), f(cap_ilo_TRAP6_x, F_ilo_TRAP6_y)],
    ],
  },
  {
    tag: "G", title: "Peak Height: Sensitivity", yTitle: "HRF Peak (%)", xTitle: "Platelet Sensitivity", gx: 0, gy: 3,
    xRange: sensXRange, xTicks: sensXTicks, yRange: peakYRange, yTicks: peakYTicks, r: rG,
    facets: [
      [f(G_ago_ADP_x, G_ago_ADP_y), f(sens_ago_CRP_x, G_ago_CRP_y), f(sens_ago_TRAP6_x, G_ago_TRAP6_y)],
      [f(sens_papa_ADP_x, G_papa_ADP_y), f(sens_papa_CRP_x, G_papa_CRP_y), f(sens_papa_TRAP6_x, G_papa_TRAP6_y)],
      [f(G_ilo_ADP_x, G_ilo_ADP_y), f(sens_ilo_CRP_x, G_ilo_CRP_y), f(sens_ilo_TRAP6_x, G_ilo_TRAP6_y)],
    ],
  },
  {
    tag: "H", title: "Peak Height: Capacity", yTitle: "HRF Peak (%)", xTitle: "Platelet Capacity", gx: 1, gy: 3,
    xRange: capXRange, xTicks: capXTicks, yRange: peakYRange, yTicks: peakYTicks, r: rH,
    facets: [
      [f(cap_ago_ADP_x, H_ago_ADP_y), f(cap_ago_CRP_x, H_ago_CRP_y), f(cap_ago_TRAP6_x, H_ago_TRAP6_y)],
      [f(cap_papa_ADP_x, H_papa_ADP_y), f(cap_papa_CRP_x, H_papa_CRP_y), f(cap_papa_TRAP6_x, H_papa_TRAP6_y)],
      [f(cap_ilo_ADP_x, H_ilo_ADP_y), f(cap_ilo_CRP_x, H_ilo_CRP_y), f(H_ilo_TRAP6_x, H_ilo_TRAP6_y)],
    ],
  },
];

// ---------- layout ----------
const PANEL_DX = 460;
const PANEL_DY = 386;
const FACET_LEFT = [77, 206, 336];
const FACET_TOP = [35, 132, 229];
const FACET_W = 121;
const FACET_H = 88;
const PAD_L = 80;
const PAD_T = 26;
const PAD_B = 68;
const STRIP = 23;
const STRIP_B = 25;

const GRID_MAJOR = "#E6E6E6";
const GRID_MINOR = "#F1F1F1";
const EDGE = "#7F7F7F";
const STRIP_FILL = "#D9D9D9";
const TICK_TEXT = "#4D4D4D";
const TICK_FS = 11.5;
const STRIP_FS = 12.5;

const snap = (v: number) => Math.round(v - 0.5) + 0.5;

function minorBreaks(ticks: number[]) {
  const step = ticks[1] - ticks[0];
  const out: number[] = [];
  for (let v = ticks[0] - step / 2; v <= ticks[ticks.length - 1] + step; v += step) out.push(v);
  return out;
}

function formatR(v: number) {
  return v < 0 ? `\u2212 ${Math.abs(v)}` : `${v}`;
}

// two-sided 95% t quantile (Cornish-Fisher expansion)
function t975(df: number) {
  const z = 1.959964;
  const z3 = z ** 3, z5 = z ** 5, z7 = z ** 7;
  return z + (z3 + z) / (4 * df) + (5 * z5 + 16 * z3 + 3 * z) / (96 * df * df) +
    (3 * z7 + 19 * z5 + 17 * z3 - 15 * z) / (384 * df ** 3);
}

// ordinary least squares fit with 95% confidence band over the data range
function lmFit(xs: number[], ys: number[]) {
  const n = xs.length;
  if (n < 3) return null;
  let mx = 0, my = 0;
  for (let i = 0; i < n; i++) { mx += xs[i]; my += ys[i]; }
  mx /= n; my /= n;
  let sxx = 0, sxy = 0;
  for (let i = 0; i < n; i++) { sxx += (xs[i] - mx) ** 2; sxy += (xs[i] - mx) * (ys[i] - my); }
  const b = sxy / sxx;
  const a = my - b * mx;
  let sse = 0;
  for (let i = 0; i < n; i++) sse += (ys[i] - a - b * xs[i]) ** 2;
  const s = Math.sqrt(sse / (n - 2));
  const t = t975(n - 2);
  const lo = Math.min(...xs), hi = Math.max(...xs);
  const line: { x: number; y: number }[] = [];
  const lower: { x: number; y: number }[] = [];
  const upper: { x: number; y: number }[] = [];
  const steps = 80;
  for (let i = 0; i < steps; i++) {
    const x = lo + ((hi - lo) * i) / (steps - 1);
    const fx = a + b * x;
    const se = s * Math.sqrt(1 / n + (x - mx) ** 2 / sxx);
    line.push({ x, y: fx });
    lower.push({ x, y: fx - t * se });
    upper.push({ x, y: fx + t * se });
  }
  return { line, lower, upper };
}

function makeDeco(p: Panel, r: number, c: number) {
  return {
    id: "facetDeco",
    beforeDatasetsDraw(chart: any) {
      const { ctx, chartArea: a, scales } = chart;
      const xs = scales.x, ys = scales.y;
      ctx.save();
      ctx.beginPath();
      ctx.rect(a.left, a.top, a.right - a.left, a.bottom - a.top);
      ctx.clip();
      const vLine = (v: number, color: string) => {
        if (v < p.xRange[0] || v > p.xRange[1]) return;
        const px = snap(xs.getPixelForValue(v));
        ctx.strokeStyle = color;
        ctx.beginPath(); ctx.moveTo(px, a.top); ctx.lineTo(px, a.bottom); ctx.stroke();
      };
      const hLine = (v: number, color: string) => {
        if (v < p.yRange[0] || v > p.yRange[1]) return;
        const py = snap(ys.getPixelForValue(v));
        ctx.strokeStyle = color;
        ctx.beginPath(); ctx.moveTo(a.left, py); ctx.lineTo(a.right, py); ctx.stroke();
      };
      ctx.lineWidth = 1;
      minorBreaks(p.xTicks).forEach((v) => vLine(v, GRID_MINOR));
      minorBreaks(p.yTicks).forEach((v) => hLine(v, GRID_MINOR));
      p.xTicks.forEach((v) => vLine(v, GRID_MAJOR));
      p.yTicks.forEach((v) => hLine(v, GRID_MAJOR));
      ctx.restore();
    },
    afterDatasetsDraw(chart: any) {
      const { ctx, chartArea: a, scales } = chart;
      const xs = scales.x, ys = scales.y;
      const w = a.right - a.left, h = a.bottom - a.top;
      ctx.save();
      ctx.lineWidth = 1;

      // panel border
      ctx.strokeStyle = EDGE;
      ctx.strokeRect(a.left + 0.5, a.top + 0.5, w - 1, h - 1);

      // correlation label
      const rv = p.r[r * 3 + c];
      ctx.fillStyle = "#0000FF";
      ctx.textBaseline = "alphabetic";
      ctx.textAlign = "left";
      ctx.font = `italic 12px ${FONT}`;
      const rx = a.left + 6, ry = a.top + 16;
      ctx.fillText("R", rx, ry);
      const rw = ctx.measureText("R").width;
      ctx.font = `12px ${FONT}`;
      ctx.fillText(` = ${formatR(rv)}`, rx + rw, ry);

      // treatment strip and y axis
      if (c === 0) {
        const sx = a.left - STRIP;
        ctx.fillStyle = STRIP_FILL;
        ctx.fillRect(sx, a.top, STRIP, h);
        ctx.strokeStyle = EDGE;
        ctx.strokeRect(sx + 0.5, a.top + 0.5, STRIP, h - 1);
        ctx.strokeStyle = "#333333";
        ctx.beginPath(); ctx.moveTo(a.left + 0.5, a.top); ctx.lineTo(a.left + 0.5, a.bottom); ctx.stroke();
        ctx.save();
        ctx.beginPath();
        ctx.rect(sx, a.top + 1, STRIP, h - 2);
        ctx.clip();
        ctx.translate(sx + STRIP / 2 + 0.5, a.top + h / 2);
        ctx.rotate(-Math.PI / 2);
        ctx.fillStyle = "#1A1A1A";
        ctx.font = `${STRIP_FS}px ${FONT}`;
        ctx.textAlign = "center";
        ctx.textBaseline = "middle";
        ctx.fillText(treatments[r], 0, 0);
        ctx.restore();

        ctx.font = `${TICK_FS}px ${FONT}`;
        ctx.textAlign = "right";
        ctx.textBaseline = "middle";
        p.yTicks.forEach((v) => {
          if (v < p.yRange[0] || v > p.yRange[1]) return;
          const py = ys.getPixelForValue(v);
          ctx.strokeStyle = "#333333";
          ctx.beginPath(); ctx.moveTo(sx - 4.5, snap(py)); ctx.lineTo(sx, snap(py)); ctx.stroke();
          ctx.fillStyle = TICK_TEXT;
          ctx.fillText(String(v), sx - 7, py + 0.5);
        });
      }

      // agonist strip and x axis
      if (r === 2) {
        const sy = a.bottom;
        ctx.fillStyle = STRIP_FILL;
        ctx.fillRect(a.left, sy, w, STRIP_B);
        ctx.strokeStyle = EDGE;
        ctx.strokeRect(a.left + 0.5, sy + 0.5, w - 1, STRIP_B - 1);
        ctx.strokeStyle = "#333333";
        ctx.beginPath(); ctx.moveTo(a.left, sy - 0.5); ctx.lineTo(a.right, sy - 0.5); ctx.stroke();
        ctx.fillStyle = "#1A1A1A";
        ctx.font = `${STRIP_FS}px ${FONT}`;
        ctx.textAlign = "center";
        ctx.textBaseline = "middle";
        ctx.fillText(agonists[c], a.left + w / 2, sy + STRIP_B / 2 + 0.5);

        const by = sy + STRIP_B;
        ctx.font = `${TICK_FS}px ${FONT}`;
        p.xTicks.forEach((v) => {
          if (v < p.xRange[0] || v > p.xRange[1]) return;
          const px = xs.getPixelForValue(v);
          ctx.strokeStyle = "#333333";
          ctx.beginPath(); ctx.moveTo(snap(px), by); ctx.lineTo(snap(px), by + 4); ctx.stroke();
          ctx.fillStyle = TICK_TEXT;
          ctx.fillText(v.toFixed(2), px, by + 12.5);
        });
      }

      // panel title
      if (r === 0 && c === 0) {
        ctx.fillStyle = "#000";
        ctx.textAlign = "left";
        ctx.textBaseline = "alphabetic";
        ctx.font = `italic 16px ${FONT}`;
        ctx.fillText(p.tag, a.left, a.top - 11.5);
        ctx.font = `16px ${FONT}`;
        ctx.fillText(p.title, a.left + 24.5, a.top - 11.5);
      }

      // y axis title
      if (r === 1 && c === 0) {
        ctx.save();
        ctx.translate(a.left - 57, a.top + h / 2);
        ctx.rotate(-Math.PI / 2);
        ctx.fillStyle = "#000";
        ctx.font = `14px ${FONT}`;
        ctx.textAlign = "center";
        ctx.textBaseline = "middle";
        ctx.fillText(p.yTitle, 0, 0);
        ctx.restore();
      }

      // x axis title
      if (r === 2 && c === 1) {
        ctx.fillStyle = "#000";
        ctx.font = `14px ${FONT}`;
        ctx.textAlign = "center";
        ctx.textBaseline = "alphabetic";
        ctx.fillText(p.xTitle, a.left + w / 2 + 0.5, a.bottom + (p.gy === 3 ? 57 : 60));
      }
      ctx.restore();
    },
  };
}

function FacetChart({ panel, r, c }: { panel: Panel; r: number; c: number }) {
  const ref = useRef<HTMLCanvasElement | null>(null);
  const padR = r === 0 && c === 0 ? 330 : 16;
  const pad = { left: PAD_L, right: padR, top: PAD_T, bottom: PAD_B };
  const W = PAD_L + FACET_W + padR;
  const H = PAD_T + FACET_H + PAD_B;
  const left = panel.gx * PANEL_DX + FACET_LEFT[c] - PAD_L;
  const top = panel.gy * PANEL_DY + FACET_TOP[r] - PAD_T;

  useEffect(() => {
    const fc = panel.facets[r][c];
    const pts = fc.x.map((x, i) => ({ x, y: fc.y[i] }));
    const fit = lmFit(fc.x, fc.y);
    const datasets: any[] = [
      {
        type: "scatter",
        data: pts,
        pointRadius: 2.9,
        pointBackgroundColor: "#000000",
        backgroundColor: "#000000",
        pointBorderWidth: 0,
        borderWidth: 0,
        order: 3,
      },
    ];
    if (fit) {
      datasets.push(
        { type: "line", data: fit.lower, showLine: true, borderColor: "rgba(0,0,0,0)", borderWidth: 0, pointRadius: 0, fill: false, order: 2 },
        { type: "line", data: fit.upper, showLine: true, borderColor: "rgba(0,0,0,0)", borderWidth: 0, pointRadius: 0, fill: "-1", backgroundColor: "rgba(153,153,153,0.4)", order: 2 },
        { type: "line", data: fit.line, showLine: true, borderColor: "#3366FF", borderWidth: 2.6, pointRadius: 0, fill: false, order: 1 },
      );
    }
    const chart = new Chart(ref.current as HTMLCanvasElement, {
      type: "scatter",
      data: { datasets },
      options: {
        animation: false,
        responsive: false,
        maintainAspectRatio: false,
        devicePixelRatio: 1,
        events: [],
        layout: { padding: pad },
        scales: {
          x: { type: "linear", display: false, min: panel.xRange[0], max: panel.xRange[1], bounds: "data" },
          y: { type: "linear", display: false, min: panel.yRange[0], max: panel.yRange[1], bounds: "data" },
        },
        plugins: { legend: { display: false }, tooltip: { enabled: false } },
      } as any,
      plugins: [makeDeco(panel, r, c)],
    });
    return () => chart.destroy();
  }, [panel, r, c]);

  return (
    <canvas
      ref={ref}
      width={W}
      height={H}
      style={{ position: "absolute", left, top, width: W, height: H }}
    />
  );
}

export default function App() {
  return (
    <div
      style={{
        position: "absolute",
        left: 0,
        top: 0,
        width: 924,
        height: 1537,
        background: "#ffffff",
        overflow: "hidden",
      }}
    >
      {panels.map((p) =>
        [0, 1, 2].map((r) =>
          [0, 1, 2].map((c) => <FacetChart key={`${p.tag}-${r}-${c}`} panel={p} r={r} c={c} />),
        ),
      )}
    </div>
  );
}
